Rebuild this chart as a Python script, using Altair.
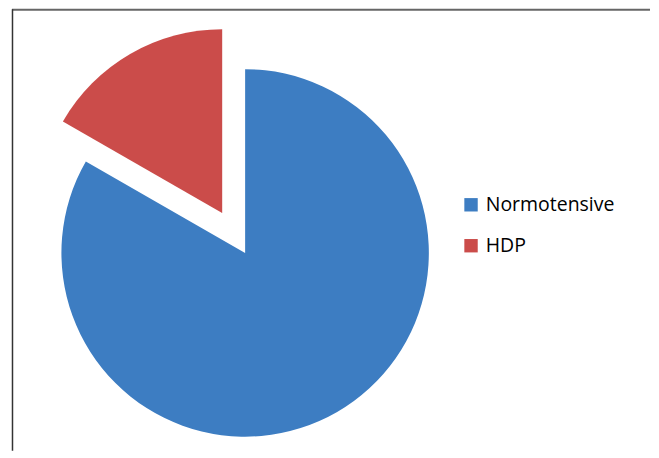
import altair as alt
import pandas as pd

categories = ["Normotensive", "HDP"]
values = [83.3, 16.7]
colors = ["#3D7DC2", "#CB4C4A"]

df = pd.DataFrame({"category": categories, "value": values, "order": [0, 1]})

W, H = 643, 442
CX, CY = 237.5, 244
R = 184
EX, EY = -23, -40  # explode offset for HDP

color = alt.Color(
    "category:N",
    scale=alt.Scale(domain=categories, range=colors),
    legend=alt.Legend(
        title=None,
        orient="none",
        legendX=454,
        legendY=186,
        symbolType="square",
        symbolSize=180,
        symbolStrokeWidth=0,
        labelFont="Open Sans",
        labelFontSize=19.5,
        labelColor="#000000",
        labelOffset=5,
        rowPadding=20,
        padding=0,
    ),
)

base = (
    alt.Chart(df)
    .transform_window(cum="sum(value)", frame=[None, 0], sort=[{"field": "order"}])
    .transform_joinaggregate(total="sum(value)")
    .transform_calculate(
        t2="2*PI*datum.cum/datum.total",
        t1="2*PI*(datum.cum-datum.value)/datum.total",
    )
)

blue = base.transform_filter("datum.category == 'Normotensive'").mark_arc(outerRadius=R).encode(
    theta=alt.Theta("t1:Q", scale=None),
    theta2="t2:Q",
    color=color,
    x=alt.value(CX),
    y=alt.value(CY),
)
red = base.transform_filter("datum.category == 'HDP'").mark_arc(outerRadius=R).encode(
    theta=alt.Theta("t1:Q", scale=None),
    theta2="t2:Q",
    color=color,
    x=alt.value(CX + EX),
    y=alt.value(CY + EY),
)

frame_data = alt.Data(values=[{"k": 1}])
top_rule = alt.Chart(frame_data).mark_rule(color="#666666", strokeWidth=2).encode(
    x=alt.value(4), x2=alt.value(W), y=alt.value(0.5)
)
left_rule = alt.Chart(frame_data).mark_rule(color="#333333", strokeWidth=1.5).encode(
    x=alt.value(4.5), y=alt.value(0), y2=alt.value(H)
)

chart = (
    alt.layer(top_rule, left_rule, blue, red)
    .properties(width=W, height=H, padding=0, background="white")
    .configure_view(stroke=None)
)

chart.save("out.html", embed_options={"renderer": "svg", "actions": False})
